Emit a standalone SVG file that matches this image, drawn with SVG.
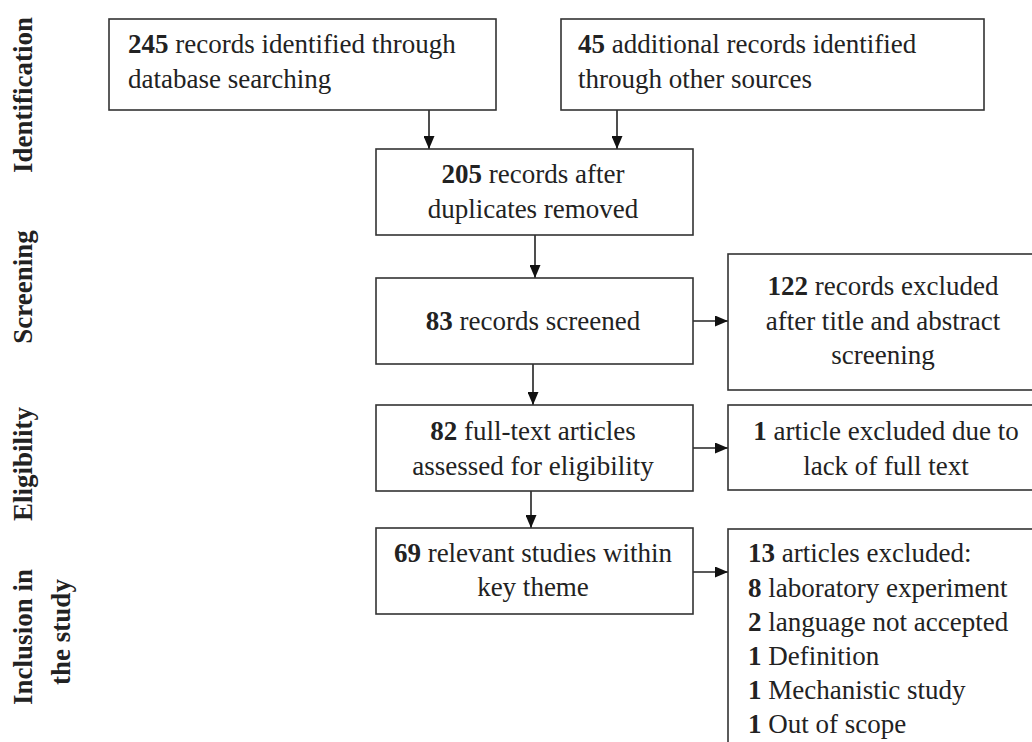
<svg xmlns="http://www.w3.org/2000/svg" width="1032" height="742" viewBox="0 0 1032 742">
<defs>
<marker id="ah" viewBox="0 0 13 11" refX="13" refY="5.5" markerWidth="13" markerHeight="11" markerUnits="userSpaceOnUse" orient="auto">
<path d="M0,0 L13,5.5 L0,11 z" fill="#111"/>
</marker>
<style>
.box{fill:#fff;stroke:#333;stroke-width:1.6}
.t{font-family:"Liberation Serif","Times New Roman",serif;font-size:27px;fill:#222}
.c{text-anchor:middle}
.b{font-weight:bold}
.lab{font-family:"Liberation Serif","Times New Roman",serif;font-size:27px;font-weight:bold;fill:#222;text-anchor:middle}
.conn{stroke:#222;stroke-width:1.6;fill:none;marker-end:url(#ah)}
</style>
</defs>
<rect width="1032" height="742" fill="#fff"/>
<g id="stages">
<text class="lab" transform="translate(32,95) rotate(-90)">Identification</text>
<text class="lab" transform="translate(32,287) rotate(-90)">Screening</text>
<text class="lab" transform="translate(32,464) rotate(-90)">Eligibility</text>
<text class="lab" transform="translate(32,637) rotate(-90)">Inclusion in</text>
<text class="lab" transform="translate(70,632) rotate(-90)">the study</text>
</g>
<g id="connectors">
<path class="conn" d="M429,110 V149"/>
<path class="conn" d="M617,110 V149"/>
<path class="conn" d="M535,235 V278"/>
<path class="conn" d="M693,321 H728"/>
<path class="conn" d="M533,364 V405"/>
<path class="conn" d="M693,448 H728"/>
<path class="conn" d="M531,491 V528"/>
<path class="conn" d="M693,572 H728"/>
</g>
<g id="n245">
<rect class="box" x="109" y="19" width="387" height="91"/>
<text class="t" x="128" y="53"><tspan class="b">245</tspan> records identified through</text>
<text class="t" x="128" y="88">database searching</text>
</g>
<g id="n45">
<rect class="box" x="561" y="19" width="423" height="91"/>
<text class="t" x="578" y="53"><tspan class="b">45</tspan> additional records identified</text>
<text class="t" x="578" y="88">through other sources</text>
</g>
<g id="n205">
<rect class="box" x="376" y="149" width="317" height="86"/>
<text class="t c" x="533" y="183"><tspan class="b">205</tspan> records after</text>
<text class="t c" x="533" y="218">duplicates removed</text>
</g>
<g id="n83">
<rect class="box" x="376" y="278" width="317" height="86"/>
<text class="t c" x="533" y="330"><tspan class="b">83</tspan> records screened</text>
</g>
<g id="n122">
<rect class="box" x="728" y="254" width="320" height="136"/>
<text class="t c" x="883" y="295"><tspan class="b">122</tspan> records excluded</text>
<text class="t c" x="883" y="330">after title and abstract</text>
<text class="t c" x="883" y="364">screening</text>
</g>
<g id="n82">
<rect class="box" x="376" y="405" width="317" height="86"/>
<text class="t c" x="533" y="440"><tspan class="b">82</tspan> full-text articles</text>
<text class="t c" x="533" y="475">assessed for eligibility</text>
</g>
<g id="n1">
<rect class="box" x="728" y="405" width="320" height="85"/>
<text class="t c" x="886" y="440"><tspan class="b">1</tspan> article excluded due to</text>
<text class="t c" x="886" y="475">lack of full text</text>
</g>
<g id="n69">
<rect class="box" x="376" y="528" width="317" height="86"/>
<text class="t c" x="533" y="562"><tspan class="b">69</tspan> relevant studies within</text>
<text class="t c" x="533" y="596">key theme</text>
</g>
<g id="n13">
<rect class="box" x="728" y="529" width="320" height="230"/>
<text class="t" x="748" y="562"><tspan class="b">13</tspan> articles excluded:</text>
<text class="t" x="748" y="597"><tspan class="b">8</tspan> laboratory experiment</text>
<text class="t" x="748" y="631"><tspan class="b">2</tspan> language not accepted</text>
<text class="t" x="748" y="665"><tspan class="b">1</tspan> Definition</text>
<text class="t" x="748" y="699"><tspan class="b">1</tspan> Mechanistic study</text>
<text class="t" x="748" y="733"><tspan class="b">1</tspan> Out of scope</text>
</g>
</svg>
